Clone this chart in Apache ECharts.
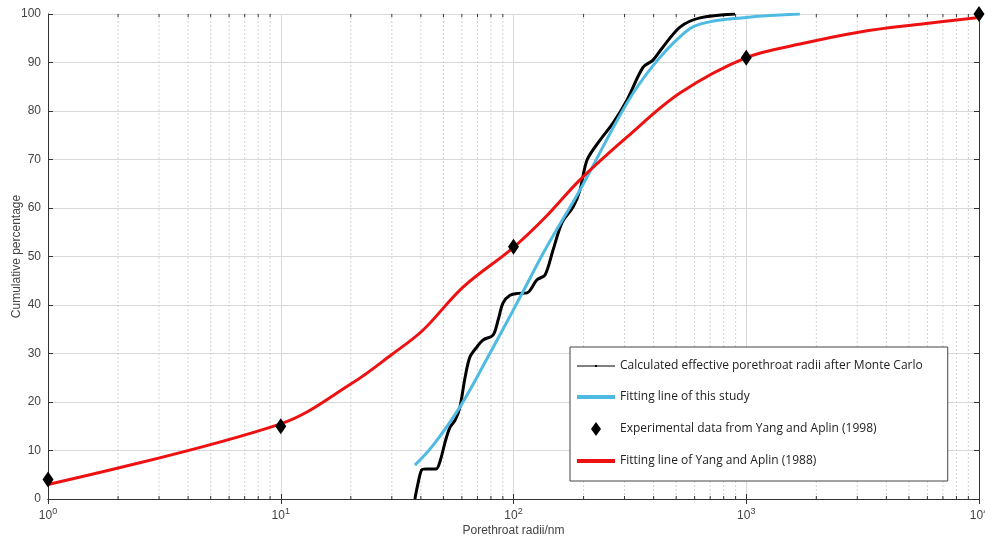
<!DOCTYPE html>
<html>
<head>
<meta charset="utf-8">
<script src="https://cdn.jsdelivr.net/npm/echarts@6/dist/echarts.min.js"></script>
<style>
  html, body { margin: 0; padding: 0; background: #fff; }
  #main { width: 985px; height: 538px; }
</style>
</head>
<body>
<div id="main"></div>
<script>
// data
var monteCarlo = [
  [37.7, 0], [38.6, 2.5], [40.3, 6], [42, 6.2], [46.5, 6.2], [48.5, 8], [51, 12], [53.4, 14.8], [56.2, 16.3],
  [58.9, 19], [61.9, 25], [65, 29.3], [70, 31.5], [74, 32.8], [81.7, 33.8], [86, 37], [90.1, 40.4],
  [96.6, 42], [105, 42.4], [114.3, 42.5], [126.2, 45.2], [136.6, 46.2], [147.8, 51.3], [161.6, 57],
  [180.2, 60.2], [193.1, 63.7], [207, 69.9], [235.4, 74], [267.6, 77.5], [307.5, 82.3], [359.9, 89],
  [397.5, 90.5], [438.8, 93.2], [519, 97.3], [632, 99.2], [895, 100]
];
var thisStudy = [
  [37.7, 7], [45, 11], [58.9, 19], [79.3, 30.1], [106.7, 41.6], [139, 52], [193, 63.7],
  [307, 81.6], [400, 89.5], [519, 95.3], [632, 97.9], [1000, 99.3], [1700, 100]
];
var experimental = [[1, 4], [10, 15], [100, 52], [1000, 91], [10000, 100]];
var yangAplin = [
  [1, 3], [10, 15.5], [20.3, 23.9], [30, 29.8], [40.8, 34.8], [60.7, 43.7], [99.5, 51.8],
  [137, 58.1], [193, 65.8], [307, 74.6], [519, 83.7], [1000, 91], [1702, 93.8], [3083, 96.3],
  [5580, 97.9], [10000, 99.3]
];
var minorTicks = [];
[1, 10, 100, 1000].forEach(function (d) {
  for (var k = 2; k <= 9; k++) minorTicks.push([d * k]);
});

var myChart = echarts.init(document.getElementById('main'));

var axisColor = '#333';
var font = 'Liberation Sans';
var option = {
  backgroundColor: '#fff',
  animation: false,
  grid: { left: 48, right: 6, top: 14, bottom: 39, containLabel: false, outerBoundsMode: 'none' },
  legend: {
    orient: 'vertical',
    left: 570,
    top: 347,
    padding: [13, 25, 14, 7],
    itemGap: 19,
    itemWidth: 38,
    itemHeight: 14,
    symbolKeepAspect: true,
    backgroundColor: '#fff',
    borderColor: '#444',
    borderWidth: 1,
    borderRadius: 0,
    textStyle: { fontFamily: 'Open Sans', fontSize: 12, color: '#222' },
    data: [
      { name: 'Calculated effective porethroat radii after Monte Carlo',
        icon: 'path://M0,0.5 L38,0.5 L38,1.5 L0,1.5 Z M18,0 L20,0 L20,2 L18,2 Z' },
      { name: 'Fitting line of this study', icon: 'path://M0,0 L38,0 L38,4 L0,4 Z' },
      { name: 'Experimental data from Yang and Aplin (1998)', icon: 'path://M5,0 L10,7 L5,14 L0,7 Z' },
      { name: 'Fitting line of Yang and Aplin (1988)', icon: 'path://M0,0 L38,0 L38,4 L0,4 Z' }
    ]
  },
  xAxis: [{
    type: 'log', logBase: 10, min: 1, max: 10000,
    name: 'Porethroat radii/nm', nameLocation: 'middle', nameGap: 26, nameMoveOverlap: false,
    nameTextStyle: { fontFamily: font, fontSize: 12, color: '#444' },
    axisLine: { lineStyle: { color: axisColor } },
    axisTick: { inside: true, length: 5, lineStyle: { color: axisColor } },
    axisLabel: {
      color: '#444', fontFamily: font, fontSize: 12, margin: 8,
      formatter: function (v) { return '10{s|' + Math.round(Math.log10(v)) + '}'; },
      rich: { s: { fontSize: 9, color: '#444', fontFamily: font, padding: [0, 0, 8, 0] } }
    },
    splitLine: { show: true, lineStyle: { color: '#d9d9d9' } }
  }, {
    type: 'log', logBase: 10, min: 1, max: 10000, position: 'top',
    axisLine: { lineStyle: { color: axisColor } },
    axisTick: { inside: true, length: 5, lineStyle: { color: axisColor } },
    axisLabel: { show: false },
    splitLine: { show: false }
  }],
  yAxis: [{
    type: 'value', min: 0, max: 100, interval: 10,
    name: 'Cumulative percentage', nameLocation: 'middle', nameGap: 25, nameMoveOverlap: false,
    nameTextStyle: { fontFamily: font, fontSize: 12, color: '#444' },
    axisLine: { show: true, lineStyle: { color: axisColor } },
    axisTick: { show: true, inside: true, length: 5, lineStyle: { color: axisColor } },
    axisLabel: { color: '#444', fontFamily: font, fontSize: 12, margin: 7 },
    splitLine: { show: true, lineStyle: { color: '#d9d9d9' } }
  }, {
    type: 'value', min: 0, max: 100, interval: 10, position: 'right',
    axisLine: { show: true, lineStyle: { color: axisColor } },
    axisTick: { show: true, inside: true, length: 5, lineStyle: { color: axisColor } },
    axisLabel: { show: false },
    splitLine: { show: false }
  }],
  series: [
    {
      // minor log grid lines + minor ticks on top and bottom
      type: 'custom',
      silent: true,
      z: 1,
      data: minorTicks,
      encode: { x: 0 },
      renderItem: function (params, api) {
        var v = api.value(0);
        var b = api.coord([v, 0]);
        var t = api.coord([v, 100]);
        return {
          type: 'group',
          children: [
            { type: 'line', shape: { x1: b[0], y1: b[1], x2: t[0], y2: t[1] },
              style: { stroke: '#d4d4d4', lineWidth: 1, lineDash: [2, 2] } },
            { type: 'line', shape: { x1: b[0], y1: b[1], x2: b[0], y2: b[1] - 3 },
              style: { stroke: axisColor, lineWidth: 1 } },
            { type: 'line', shape: { x1: t[0], y1: t[1], x2: t[0], y2: t[1] + 3 },
              style: { stroke: axisColor, lineWidth: 1 } }
          ]
        };
      }
    },
    {
      name: 'Calculated effective porethroat radii after Monte Carlo',
      type: 'line', data: monteCarlo, smooth: 0.3,
      symbol: 'circle', symbolSize: 3, showSymbol: false,
      lineStyle: { color: '#000', width: 3 }, itemStyle: { color: '#000' }, z: 3
    },
    {
      name: 'Fitting line of this study',
      type: 'line', data: thisStudy, smooth: 0.4, symbol: 'none',
      lineStyle: { color: '#4fbbe3', width: 3 }, itemStyle: { color: '#4fbbe3' }, z: 4
    },
    {
      name: 'Experimental data from Yang and Aplin (1998)',
      type: 'scatter', data: experimental, symbol: 'diamond', symbolSize: [11, 16],
      itemStyle: { color: '#000', opacity: 1 }, z: 6
    },
    {
      name: 'Fitting line of Yang and Aplin (1988)',
      type: 'line', data: yangAplin, smooth: 0.35, symbol: 'none',
      lineStyle: { color: '#ee1111', width: 3 }, itemStyle: { color: '#ee1111' }, z: 5
    }
  ]
};
myChart.setOption(option);
</script>
</body>
</html>
